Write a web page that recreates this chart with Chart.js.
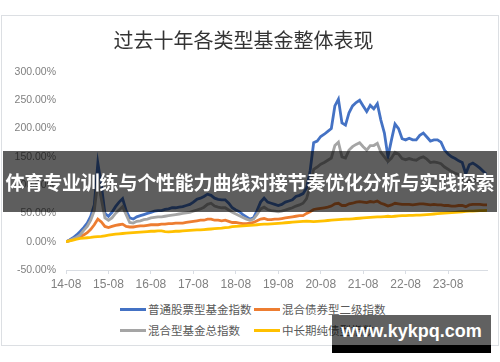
<!DOCTYPE html>
<html>
<head>
<meta charset="utf-8">
<script src="https://cdn.jsdelivr.net/npm/chart.js@4"></script>
<style>
  html, body { margin: 0; padding: 0; background: #fff; }
  body { width: 500px; height: 362px; position: relative; overflow: hidden; font-family: "Noto Sans CJK SC", sans-serif; }
  #frame { position: absolute; left: 1px; top: 15px; width: 496px; height: 329px; border: 1px solid #dcdfe3; }
  #wrap { position: absolute; left: 0; top: 15px; width: 500px; height: 280px; }
  .legend { position: absolute; left: 120px; top: 300px; display: grid; grid-template-columns: 134px 134px; row-gap: 3px; }
  .item { display: flex; align-items: center; height: 18px; font-size: 11.5px; color: #595959; white-space: nowrap; }
  .item i { display: inline-block; width: 26px; height: 3px; margin-right: 2px; }
  .banner { position: absolute; left: 3px; top: 151px; width: 494px; height: 61px; background: rgba(0,0,0,0.63);
    color: #fff; font-weight: bold; font-size: 19px; line-height: 61px; text-align: center; white-space: nowrap; letter-spacing: -0.2px; }
  .mark { position: absolute; left: 332px; top: 315px; width: 159px; height: 30px; background: rgba(0,0,0,0.62);
    color: #fff; font-family: "Liberation Sans", sans-serif; font-weight: bold; font-size: 18px; line-height: 32px; text-align: center; }
  .markband { position: absolute; left: 332px; top: 345px; width: 159px; height: 8px; background: #000; }
</style>
</head>
<body>
<div id="frame"></div>
<div id="wrap"><canvas id="lineChart"></canvas></div>
<div class="legend" id="legend"></div>
<div class="banner">体育专业训练与个性能力曲线对接节奏优化分析与实践探索</div>
<div class="mark">www.kykpq.com</div>
<div class="markband"></div>
<script>
// monthly points, 14-08 .. 24-07
const xTickLabels = ["14-08", "15-08", "16-08", "17-08", "18-08", "19-08", "20-08", "21-08", "22-08", "23-08"];
const seriesNames = ["普通股票型基金指数", "混合债券型二级指数", "混合型基金总指数", "中长期纯债型指数"];
const seriesColors = ["#4472c4", "#ed7d31", "#a5a5a5", "#ffc000"];

const stockFund = [
  0, 3, 7, 12, 18, 25, 33, 45, 65, 139, 100, 50,
  45, 52, 62, 70, 76, 55, 42, 40, 44, 46, 48, 50,
  52, 54, 55, 55, 57, 58, 60, 60, 61, 62, 64, 66,
  70, 75, 77, 80, 84, 82, 77, 75, 74, 74, 68, 60,
  56, 53, 48, 44, 40, 42, 55, 70, 77, 70, 68, 66,
  64, 66, 70, 72, 74, 80, 82, 85, 95, 125, 175, 178,
  186, 190, 195, 200, 240, 252, 210, 206, 228, 240, 246, 250,
  240, 230, 241, 235, 244, 215, 192, 150, 180, 208, 200, 182,
  180, 183, 180, 180, 188, 192, 185, 178, 180, 180, 176, 162,
  155, 150, 147, 143, 140, 120, 136, 139, 135, 130, 124, 118
];
const bondMix2 = [
  0, 2, 4, 6, 9, 12, 16, 22, 30, 40, 35, 27,
  25, 27, 29, 30, 31, 27, 26, 26, 27, 28, 28, 29,
  30, 30, 30, 31, 31, 32, 32, 33, 33, 33, 34, 35,
  36, 37, 38, 38, 40, 40, 38, 38, 37, 38, 36, 34,
  34, 33, 32, 32, 33, 34, 37, 40, 41, 39, 39, 40,
  40, 41, 42, 43, 44, 45, 46, 46, 50, 53, 57, 58,
  59, 60, 61, 63, 67, 68, 64, 64, 67, 68, 70, 71,
  70, 69, 71, 70, 72, 68, 66, 63, 65, 68, 67, 66,
  66, 66, 65, 66, 67, 67, 66, 65, 66, 65, 65, 64,
  64, 63, 63, 64, 64, 62, 65, 66, 66, 66, 65, 65
];
const hybridFund = [
  0, 2, 5, 8, 12, 20, 27, 38, 55, 108, 75, 42,
  38, 42, 50, 56, 62, 48, 34, 33, 36, 37, 39, 40,
  42, 43, 44, 44, 45, 46, 47, 48, 49, 50, 51, 52,
  54, 56, 58, 61, 66, 68, 63, 61, 60, 60, 56, 52,
  49, 46, 43, 40, 38, 40, 48, 58, 61, 57, 55, 54,
  53, 54, 56, 58, 60, 63, 65, 68, 76, 98, 128, 132,
  137, 140, 144, 148, 170, 176, 150, 148, 162, 168, 172, 175,
  168, 162, 170, 170, 174, 158, 150, 142, 148, 158, 155, 147,
  145, 147, 145, 144, 148, 150, 146, 140, 141, 140, 138, 132,
  128, 124, 121, 119, 112, 97, 108, 110, 108, 106, 104, 104
];
const pureBond = [
  0, 1.5, 3, 4.5, 6, 6.5, 7, 7.5, 8.5, 9, 9.5, 10.5,
  11.5, 12.5, 13.5, 14, 14.5, 15, 15.5, 16, 16.5, 17, 17.5, 18,
  18.5, 18.5, 19, 19, 18, 17.5, 18, 18.5, 18.5, 19, 19.5, 20,
  20.5, 21, 21, 21.5, 22, 22.5, 23, 23.5, 24, 25, 25.5, 26.5,
  27, 27.5, 28, 28.5, 29, 29.5, 30, 30.5, 31, 31, 31.5, 32,
  32.5, 33, 33.5, 34, 34.5, 35, 35.5, 36, 36.5, 36, 35.5, 36,
  36.5, 37, 37.5, 38, 38.5, 39, 39.5, 40, 40, 40.5, 41, 41.5,
  42, 42.5, 43, 43.5, 44, 44, 44.5, 45, 44.5, 45, 45.5, 46,
  46, 46.5, 46.5, 47, 47, 47.5, 48, 48.5, 49, 49.5, 50, 50.5,
  51, 51.5, 52, 52.5, 53, 53.5, 54, 54, 54.5, 55, 55, 55.5
];

const allSeries = [stockFund, bondMix2, hybridFund, pureBond];
const drawOrder = [4, 3, 2, 1]; // later series on top, like the original

const legend = document.getElementById("legend");
seriesNames.forEach((name, i) => {
  const el = document.createElement("div");
  el.className = "item";
  el.innerHTML = `<i style="background:${seriesColors[i]}"></i>${name}`;
  legend.appendChild(el);
});

const ctx = document.getElementById("lineChart").getContext("2d");
new Chart(ctx, {
  type: "line",
  data: {
    datasets: allSeries.map((vals, i) => ({
      label: seriesNames[i],
      data: vals.map((v, j) => ({ x: j, y: v })),
      borderColor: seriesColors[i],
      borderWidth: 2.8,
      pointRadius: 0,
      tension: 0,
      fill: false,
      order: drawOrder[i]
    }))
  },
  options: {
    responsive: true,
    maintainAspectRatio: false,
    animation: false,
    layout: { padding: { left: 0, right: 13, top: 0, bottom: 5 } },
    plugins: {
      legend: { display: false },
      tooltip: { enabled: false },
      title: {
        display: true,
        text: "过去十年各类型基金整体表现",
        color: "#333333",
        font: { family: "Noto Sans CJK SC", size: 20, weight: "normal" },
        padding: { top: 13, bottom: 20 }
      }
    },
    scales: {
      x: {
        type: "linear",
        min: 0,
        max: 119,
        afterFit: (scale) => { scale.height = 20; },
        grid: { drawOnChartArea: false, drawTicks: true, tickLength: 4, color: "#d9dde3" },
        border: { display: true, color: "#d9dde3" },
        ticks: {
          stepSize: 12,
          includeBounds: false,
          autoSkip: false,
          maxRotation: 0,
          padding: 3,
          color: "#808080",
          font: { family: "Liberation Sans", size: 12 },
          callback: (value) => (value % 12 === 0 ? xTickLabels[value / 12] : "")
        }
      },
      y: {
        min: -50,
        max: 300,
        afterFit: (scale) => { scale.width = 66; },
        grid: { display: false, drawTicks: false },
        border: { display: false },
        ticks: {
          stepSize: 50,
          padding: 10,
          color: "#808080",
          font: { family: "Liberation Sans", size: 10.5 },
          callback: (value) => value.toFixed(2) + "%"
        }
      }
    }
  }
});
</script>
</body>
</html>
